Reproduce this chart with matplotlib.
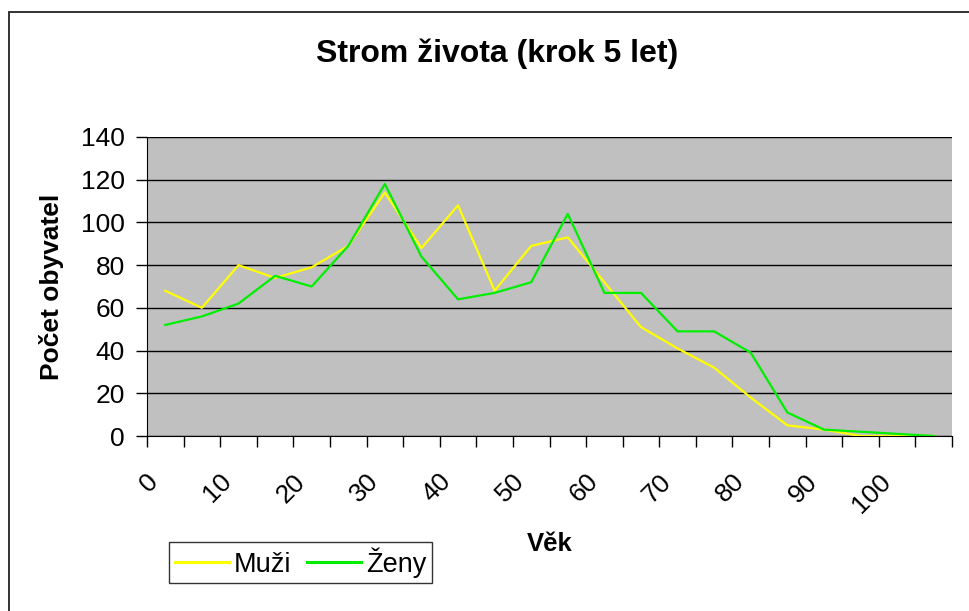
import matplotlib
matplotlib.use("Agg")
import matplotlib.pyplot as plt
from matplotlib.patches import Rectangle
from matplotlib.transforms import ScaledTranslation

plt.rcParams['font.family'] = ['Liberation Sans', 'DejaVu Sans']

# age groups (step 5 years)
ages = [0, 5, 10, 15, 20, 25, 30, 35, 40, 45, 50,
        55, 60, 65, 70, 75, 80, 85, 90, 95, 100, 105]
muzi = [68, 60, 80, 74, 79, 89, 114, 88, 108, 68, 89,
        93, 72, 51, 41, 32, 18, 5, 3, 0, 0, 0]
zeny = [52, 56, 62, 75, 70, 89, 118, 84, 64, 67, 72,
        104, 67, 67, 49, 49, 39, 11, 3, 2, 1, 0]
age_labels = ['0', '10', '20', '30', '40', '50', '60', '70', '80', '90', '100']
y_ticks = [0, 20, 40, 60, 80, 100, 120, 140]

W, H = 970, 611
fig = plt.figure(figsize=(W / 100, H / 100), dpi=100)
fig.patch.set_facecolor('white')

# chart border (right/bottom edges fall outside the image)
fig.patches.append(Rectangle((9 / W, -0.1), 1.2, 1 - 12 / H + 0.1,
                             transform=fig.transFigure, fill=False,
                             edgecolor='#222222', linewidth=1.3))

ax = fig.add_axes([147 / W, 1 - 436 / H, (952 - 147) / W, (436 - 137) / H])
ax.set_facecolor('#C0C0C0')

n = len(ages)
xs = [i + 0.5 for i in range(n)]
ax.plot(xs, muzi, color='#FFFF00', lw=1.6, label='Muži', zorder=3)
ax.plot(xs, zeny, color='#00EE00', lw=1.6, label='Ženy', zorder=3)

ax.set_xlim(0, n)
ax.set_ylim(0, 140)
ax.set_yticks(y_ticks)
ax.set_yticklabels([str(v) for v in y_ticks], fontsize=19)
ax.yaxis.grid(True, color='black', lw=1)
ax.set_axisbelow(True)

# category boundaries as major ticks, labels on every 2nd category centre
ax.set_xticks(range(n + 1))
ax.set_xticklabels([])
ax.set_xticks([xs[i] for i in range(0, n, 2)], minor=True)
ax.set_xticklabels(age_labels, minor=True, fontsize=19, rotation=45,
                   ha='right', va='top', rotation_mode='anchor')
ax.tick_params(axis='x', which='minor', length=0, pad=24)
ax.tick_params(axis='x', which='major', length=8, width=1, direction='out')
ax.tick_params(axis='y', length=8, width=1, direction='out', pad=8)
offset = ScaledTranslation(-19 / 100, 0, fig.dpi_scale_trans)
for lbl in ax.get_xticklabels(minor=True):
    lbl.set_transform(lbl.get_transform() + offset)

for side in ['top', 'right']:
    ax.spines[side].set_visible(False)
ax.spines['left'].set_color('black')
ax.spines['bottom'].set_color('black')

fig.text(497 / W, 1 - 62 / H, 'Strom života (krok 5 let)', ha='center',
         va='baseline', fontsize=23, fontweight='bold')
fig.text(52 / W, 1 - 287 / H, 'Počet obyvatel', rotation=90, ha='center',
         va='center', fontsize=19, fontweight='bold')
fig.text(550 / W, 1 - 544 / H, 'Věk', ha='center', va='center',
         fontsize=18.5, fontweight='bold')

leg = fig.legend(loc='center', bbox_to_anchor=(300.5 / W, 1 - 562.5 / H),
                 ncol=2, fontsize=19.5, frameon=True, fancybox=False,
                 handlelength=2.0, handletextpad=0.2, columnspacing=0.55,
                 borderpad=0.2, borderaxespad=0)
leg.get_frame().set_edgecolor('black')
leg.get_frame().set_linewidth(1)
for line in leg.get_lines():
    line.set_linewidth(2.2)

fig.savefig('out.png', dpi=100)
